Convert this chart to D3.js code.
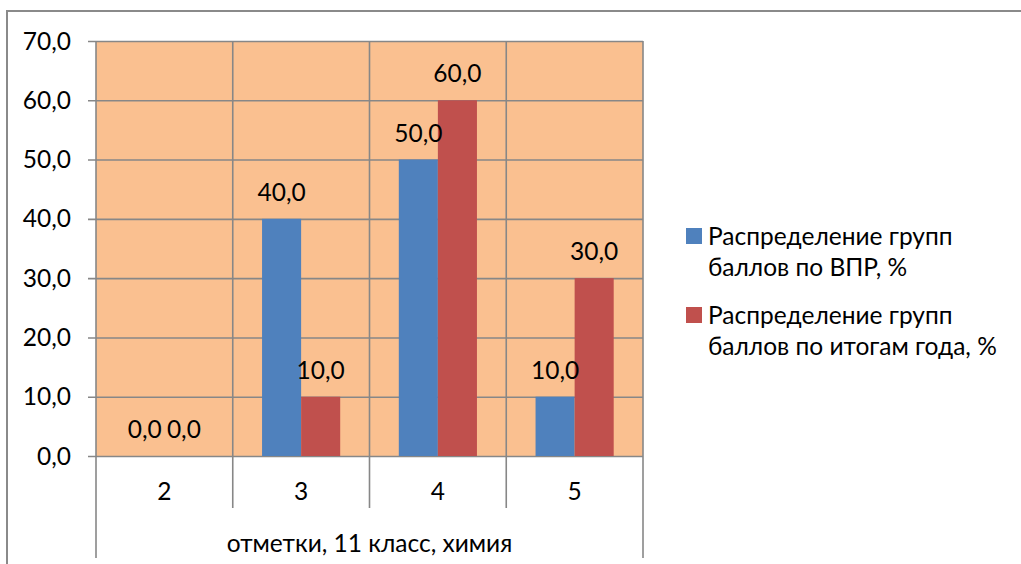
<!DOCTYPE html>
<html><head><meta charset="utf-8">
<script src="https://cdn.jsdelivr.net/npm/d3@7"></script>
<style>
html,body{margin:0;padding:0;background:#fff;overflow:hidden;}
svg{display:block;}
text{font-family:Lato,"Open Sans",sans-serif;fill:#000;}
</style></head>
<body>
<svg id="c" width="1021" height="564"></svg>
<script>
const categories = ["2", "3", "4", "5"];
const seriesNames = ["Распределение групп баллов по ВПР, %", "Распределение групп баллов по итогам года, %"];
const seriesVPR = [0, 40, 50, 10];
const seriesYear = [0, 10, 60, 30];
const yTicks = [0, 10, 20, 30, 40, 50, 60, 70];
const axisTitle = "отметки, 11 класс, химия";
const legendLines = [["Распределение групп", "баллов по ВПР, %"], ["Распределение групп", "баллов по итогам года, %"]];

const colors = ["#4F81BD", "#C0504D"];
const seriesVals = [seriesVPR, seriesYear];
const fmt = v => d3.format(".1f")(v).replace(".", ",");
const FS = 24.5;

const svg = d3.select("#c");
const L = 96, R = 643, T = 41, B = 456;
const gridColor = "#878787";

// outer border: only top and left edges are visible
svg.append("path").attr("d", "M7,564V11H1021")
  .attr("fill", "none").attr("stroke", "#8a8a8a").attr("stroke-width", 2);

const x = d3.scaleBand().domain(categories).range([L, R]).padding(0);
const x1 = d3.scaleBand().domain([0, 1]).range([0, x.bandwidth()]).paddingInner(0).paddingOuter(0.75);
const y = d3.scaleLinear().domain([0, 70]).range([B, T]);

// plot background
svg.append("rect").attr("x", L).attr("y", T).attr("width", R - L).attr("height", B - T).attr("fill", "#FAC090");

// horizontal gridlines + ticks
const yAxis = d3.axisLeft(y).tickValues(yTicks).tickSize(-(R - L)).tickFormat("");
const gy = svg.append("g").attr("transform", `translate(${L},0)`).call(yAxis);
gy.select(".domain").remove();
gy.selectAll("line").attr("stroke", gridColor).attr("stroke-width", 1.6).attr("x1", -8);

// vertical category lines
const bounds = categories.map(c => x(c)).concat([R]);
svg.append("g").selectAll("line").data(bounds).join("line")
  .attr("x1", d => d).attr("x2", d => d)
  .attr("y1", T)
  .attr("y2", (d, i) => (i === 0 || i === bounds.length - 1) ? 558 : 508)
  .attr("stroke", gridColor).attr("stroke-width", 1.6);

// y tick labels
svg.append("g").selectAll("text").data(yTicks).join("text")
  .attr("x", 71).attr("y", d => y(d) + 8.5)
  .attr("text-anchor", "end").attr("font-size", FS).text(fmt);

// bars
const groups = svg.append("g").selectAll("g").data(categories).join("g")
  .attr("transform", d => `translate(${x(d)},0)`);
groups.selectAll("rect").data((c, i) => seriesVals.map((s, k) => ({ k, v: s[i] }))).join("rect")
  .attr("x", d => x1(d.k)).attr("width", x1.bandwidth())
  .attr("y", d => y(d.v)).attr("height", d => B - y(d.v))
  .attr("fill", d => colors[d.k]);
groups.selectAll("text").data((c, i) => seriesVals.map((s, k) => ({ k, v: s[i] }))).join("text")
  .attr("x", d => x1(d.k) + x1.bandwidth() / 2)
  .attr("y", d => y(d.v) - 18)
  .attr("text-anchor", "middle").attr("font-size", FS).text(d => fmt(d.v));

// category labels
svg.append("g").selectAll("text").data(categories).join("text")
  .attr("x", d => x(d) + x.bandwidth() / 2).attr("y", 500)
  .attr("text-anchor", "middle").attr("font-size", FS).text(d => d);

svg.append("text").attr("x", (L + R) / 2).attr("y", 552)
  .attr("text-anchor", "middle").attr("font-size", FS).text(axisTitle);

// legend
const lg = svg.append("g").selectAll("g").data(legendLines).join("g")
  .attr("transform", (d, i) => `translate(686,${228 + i * 79})`);
lg.append("rect").attr("width", 16).attr("height", 16).attr("fill", (d, i) => colors[i]);
lg.selectAll("text").data(d => d).join("text")
  .attr("x", 22).attr("y", (d, j) => 17 + j * 31)
  .attr("font-size", FS).text(d => d);
</script>
</body></html>
